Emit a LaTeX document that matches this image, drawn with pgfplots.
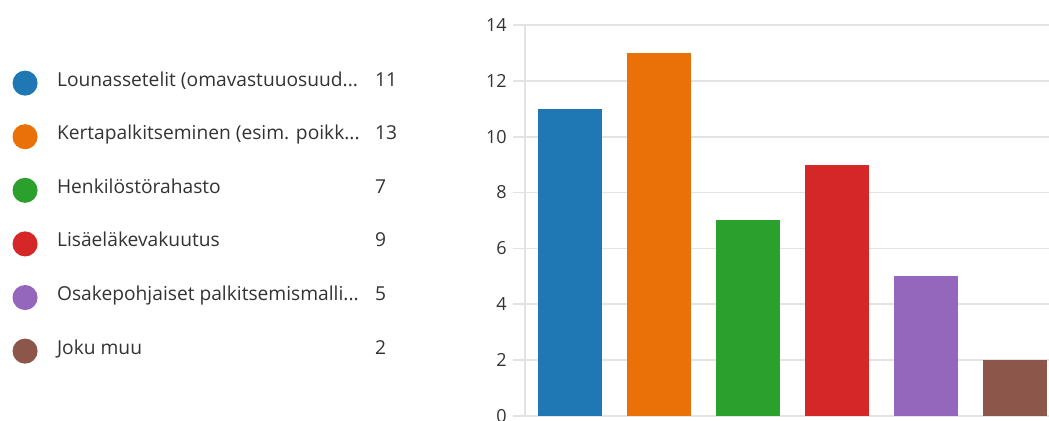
\documentclass[border=0pt]{standalone}
\usepackage{pgfplots}
\pgfplotsset{compat=1.18}
\usepackage{fontspec}
\setmainfont{Open Sans}
\definecolor{c1}{HTML}{1F77B4}
\definecolor{c2}{HTML}{EA7008}
\definecolor{c3}{HTML}{2CA02C}
\definecolor{c4}{HTML}{D62728}
\definecolor{c5}{HTML}{9467BD}
\definecolor{c6}{HTML}{8C564B}
\definecolor{txt}{HTML}{333333}
\definecolor{grid}{HTML}{E3E3E3}
\begin{document}
\begin{tikzpicture}
\useasboundingbox (0,0) rectangle (786.75pt,315.75pt);
\begin{axis}[
  at={(393.75pt,3.75pt)}, anchor=south west,
  scale only axis, width=393pt, height=293.25pt,
  xmin=-0.5, xmax=5.38, ymin=0, ymax=14,
  ytick={0,2,...,14}, xtick=\empty,
  axis x line=none, axis y line=left,
  axis line style={draw=grid, line width=1.2pt, -},
  ymajorgrids, grid style={draw=grid, line width=1.2pt},
  tick align=outside, major tick length=9pt,
  ytick style={draw=grid, line width=1.2pt},
  yticklabel style={font=\fontsize{13.5}{14}\selectfont, text=txt, inner sep=0pt, xshift=-4.5pt},
  /pgf/number format/assume math mode=true,
  ybar, bar width=48pt, bar shift=0pt,
  every axis plot/.append style={draw=none, bar shift=0pt},
  legend style={at={(-0.978,0.895)}, anchor=north west, draw=none, fill=none,
    inner sep=0pt, outer sep=0pt, row sep=15.2pt, column sep=0pt,
    font=\fontsize{14.4}{15}\selectfont, text=txt,
    nodes={inner sep=0pt, text height=15pt, text depth=10pt}},
  legend cell align=left,
  legend image code/.code={\fill[#1] (9.4pt,-0.3pt) circle (9.4pt); \path (0,0) (33.4pt,0);},
]
\addplot[fill=c1] coordinates {(0,11)};
\addlegendentry{\makebox[238.5pt][l]{Lounassetelit (omavastuuosuud...}11}
\addplot[fill=c2] coordinates {(1,13)};
\addlegendentry{\makebox[238.5pt][l]{Kertapalkitseminen (esim. poikk...}13}
\addplot[fill=c3] coordinates {(2,7)};
\addlegendentry{\makebox[238.5pt][l]{Henkilöstörahasto}7}
\addplot[fill=c4] coordinates {(3,9)};
\addlegendentry{\makebox[238.5pt][l]{Lisäeläkevakuutus}9}
\addplot[fill=c5] coordinates {(4,5)};
\addlegendentry{\makebox[238.5pt][l]{Osakepohjaiset palkitsemismalli...}5}
\addplot[fill=c6] coordinates {(5,2)};
\addlegendentry{\makebox[238.5pt][l]{Joku muu}2}
\end{axis}
\end{tikzpicture}
\end{document}
